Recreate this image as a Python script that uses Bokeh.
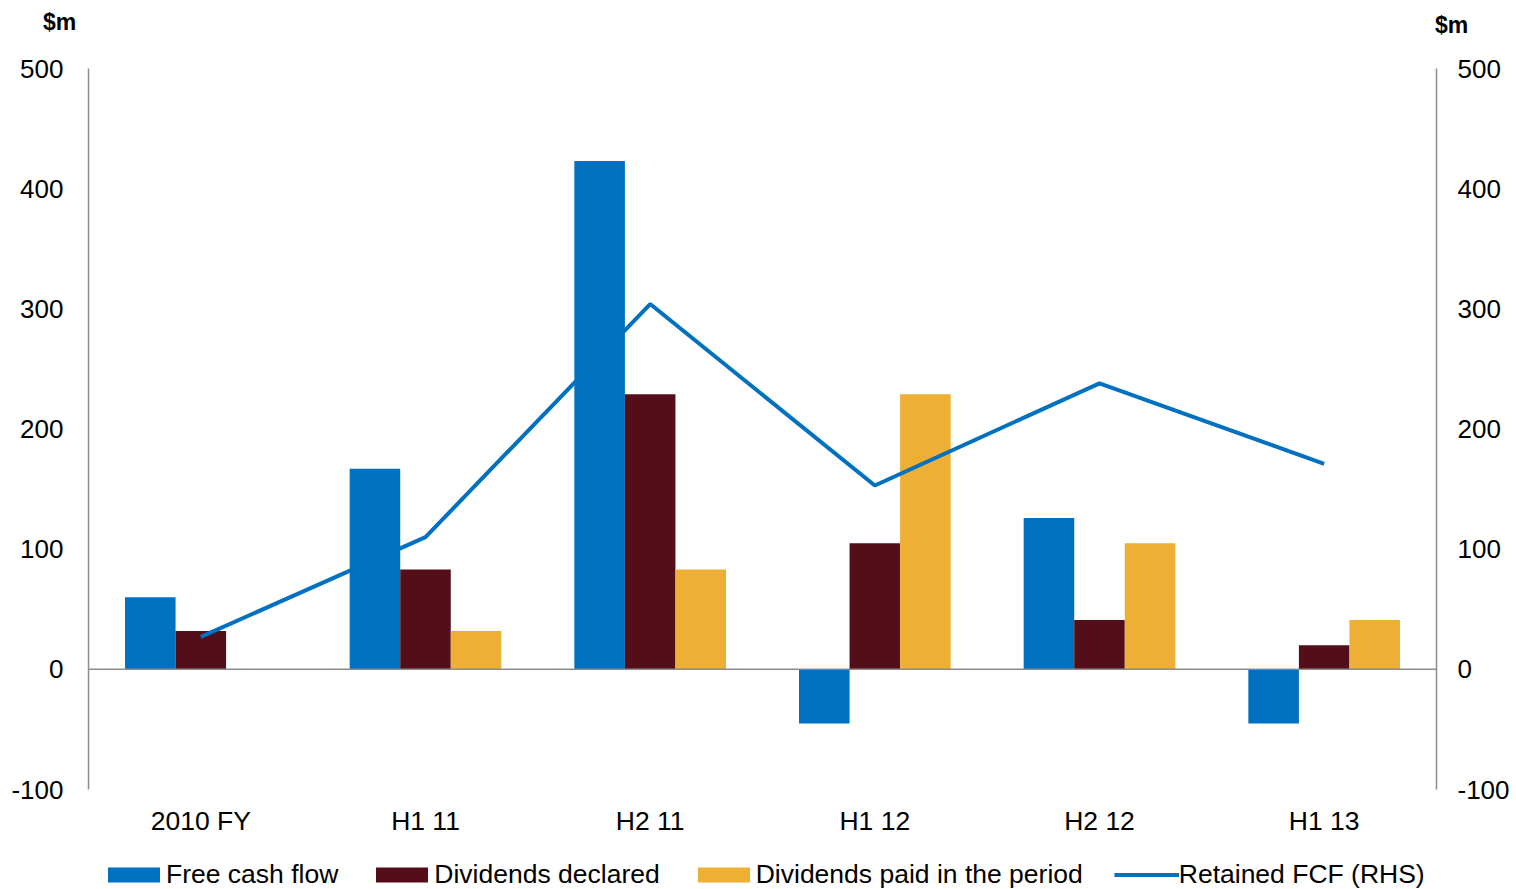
from bokeh.plotting import figure
from bokeh.layouts import column
from bokeh.models import (FactorRange, Range1d, LinearAxis, ColumnDataSource, Span, Div,
                          Legend, LegendItem, FixedTicker)
from bokeh.transform import dodge
from bokeh.embed import file_html
from bokeh.resources import INLINE

categories = ["2010 FY", "H1 11", "H2 11", "H1 12", "H2 12", "H1 13"]
free_cash_flow = [60, 167, 423, -45, 126, -45]
dividends_declared = [32, 83, 229, 105, 41, 20]
dividends_paid = [0, 32, 83, 229, 105, 41]
retained_fcf = [27, 110, 304, 153, 238, 171]
tick_values = [-100, 0, 100, 200, 300, 400, 500]
series_names = ["Free cash flow", "Dividends declared", "Dividends paid in the period",
                "Retained FCF (RHS)"]
unit_label = "$m"

FONT = "Liberation Sans"
BLUE = "#0070C0"
MAROON = "#540E1A"
GOLD = "#EDAF34"
AXIS_GREY = "#8C8C8C"
W = 1516

# ---- header with the two unit labels
span_style = "position:absolute;"
header_html = (
    f'<div style="position:relative;width:{W}px;height:40px;font-family:\'{FONT}\';'
    'font-weight:bold;font-size:23px;line-height:23px;color:#000000;">'
    f'<span style="{span_style}left:43px;top:11px;">{unit_label}</span>'
    f'<span style="{span_style}left:1435px;top:14px;">{unit_label}</span></div>'
)
header = Div(text=header_html, width=W, height=40, margin=0, disable_math=True)

# ---- main chart
src = ColumnDataSource(dict(cat=categories, fcf=free_cash_flow, dec=dividends_declared,
                            paid=dividends_paid, ret=retained_fcf))

p = figure(x_range=FactorRange(*categories, range_padding=0), y_range=Range1d(-100, 500),
           width=W, height=799, output_backend="svg", toolbar_location=None,
           min_border_left=88, min_border_right=80, min_border_top=28, min_border_bottom=50)
p.extra_y_ranges = {"right": Range1d(-100, 500)}

bw = 0.225


def draw_series(fig):
    a = fig.vbar(x=dodge("cat", -bw, range=fig.x_range), top="fcf", bottom=0, width=bw,
                 source=src, color=BLUE, line_color=None)
    b = fig.vbar(x=dodge("cat", 0, range=fig.x_range), top="dec", bottom=0, width=bw,
                 source=src, color=MAROON, line_color=None)
    c = fig.vbar(x=dodge("cat", bw, range=fig.x_range), top="paid", bottom=0, width=bw,
                 source=src, color=GOLD, line_color=None)
    return a, b, c


draw_series(p)
p.add_layout(Span(location=0, dimension="width", line_color=AXIS_GREY, line_width=1.5))
p.line(x="cat", y="ret", source=src, y_range_name="right", line_color=BLUE, line_width=4)

p.grid.visible = False
p.outline_line_color = None

overrides = {v: str(v) for v in tick_values}


def style_y(ax, standoff):
    ax.ticker = FixedTicker(ticks=tick_values)
    ax.major_label_overrides = overrides
    ax.axis_line_color = AXIS_GREY
    ax.axis_line_width = 1.5
    ax.major_tick_line_color = None
    ax.minor_tick_line_color = None
    ax.major_label_text_font = FONT
    ax.major_label_text_font_size = "26px"
    ax.major_label_text_color = "#000000"
    ax.major_label_standoff = standoff


style_y(p.yaxis[0], 19)
ra = LinearAxis(y_range_name="right")
style_y(ra, 15)
p.add_layout(ra, "right")

xa = p.xaxis[0]
xa.axis_line_color = None
xa.major_tick_line_color = None
xa.minor_tick_line_color = None
xa.major_label_text_font = FONT
xa.major_label_text_font_size = "26.5px"
xa.major_label_text_color = "#000000"
xa.major_label_standoff = 10

# ---- legend strip (its renderers use the same data, drawn out of view)
lf = figure(width=W, height=50, x_range=FactorRange(*categories, range_padding=0),
            y_range=Range1d(1000, 1001), output_backend="svg", toolbar_location=None)
lf.axis.visible = False
lf.grid.visible = False
lf.outline_line_color = None
lf.min_border_left = lf.min_border_right = lf.min_border_top = lf.min_border_bottom = 0
g1, g2, g3 = draw_series(lf)
g4 = lf.line(x="cat", y="ret", source=src, line_color=BLUE, line_width=4)
legend = Legend(items=[LegendItem(label=n, renderers=[g]) for n, g in
                       zip(series_names, [g1, g2, g3, g4])],
                orientation="horizontal", location=(13, -1), border_line_color=None,
                background_fill_alpha=0, label_text_font=FONT, label_text_font_size="26.5px",
                label_text_color="#000000", glyph_width=65, glyph_height=19, label_standoff=0,
                spacing=31, padding=0, margin=0)
lf.add_layout(legend)

layout = column(header, p, lf, spacing=0)
open("out.html", "w").write(file_html(layout, INLINE))
